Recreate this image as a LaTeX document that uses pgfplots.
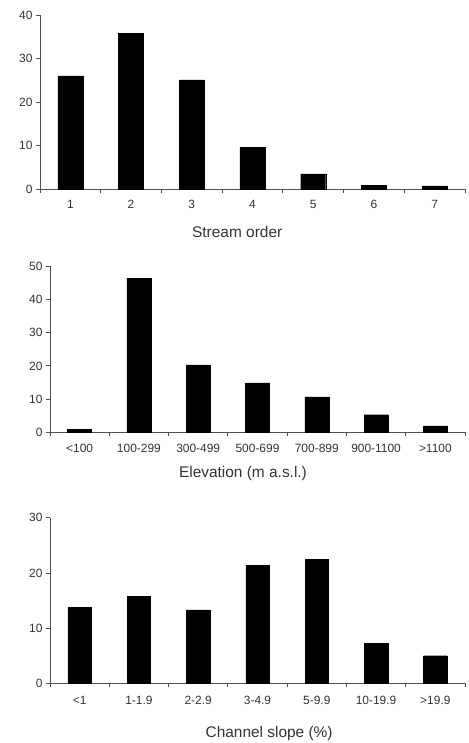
\documentclass[border=0pt]{standalone}
\usepackage{pgfplots}
\pgfplotsset{compat=1.18}
\usepackage{fontspec}
\setmainfont{Liberation Sans}
\definecolor{axgray}{HTML}{505050}
\definecolor{txtgray}{HTML}{333333}
\pgfplotsset{
  histo/.style={
    scale only axis,
    axis x line=bottom, axis y line=left,
    axis line style={axgray, line width=0.8bp, -},
    xmin=0.5, xmax=7.5, ymin=0,
    xtick={1,...,7},
    major x tick style={draw=none},
    minor xtick={0.5,1.5,...,7.5},
    minor tick length=4bp,
    major tick length=4bp,
    tick align=outside,
    tick style={axgray, line width=0.8bp},
    ticklabel style={font=\fontsize{12}{13}\selectfont, text=txtgray},
    /pgf/number format/assume math mode=true,
    label style={font=\fontsize{15.5}{17}\selectfont, text=txtgray},
    ybar, bar width=24bp,
    clip=false,
  }
}
\begin{document}
\begin{tikzpicture}
\path[use as bounding box] (0bp,0bp) rectangle (469bp,743bp);
% Panel 1
\begin{axis}[histo, at={(40bp,554bp)}, anchor=origin, width=425bp, height=174bp,
  ymax=40, ytick={0,10,20,30,40},
  xticklabels={1,2,3,4,5,6,7},
  xticklabel style={yshift=-4bp},
  xlabel={Stream order},
  xlabel style={at={(axis description cs:0.464,0)}, anchor=center, yshift=-43bp},
  bar width=25bp]
\addplot[fill=black, draw=black] coordinates {(1,26.0) (2,35.8) (3,25.1) (4,9.5) (5,3.5) (6,0.9) (7,0.7)};
\end{axis}
% Panel 2
\begin{axis}[histo, at={(50bp,310.7bp)}, anchor=origin, width=415bp, height=166bp,
  ymax=50, ytick={0,10,20,30,40,50},
  xticklabels={<100,100-299,300-499,500-699,700-899,900-1100,>1100},
  xticklabel style={yshift=-4bp},
  xlabel={Elevation (m a.s.l.)},
  xlabel style={at={(axis description cs:0.465,0)}, anchor=center, yshift=-41bp}]
\addplot[fill=black, draw=black] coordinates {(1,0.9) (2,46.4) (3,20.3) (4,14.9) (5,10.7) (6,5.3) (7,1.9)};
\end{axis}
% Panel 3
\begin{axis}[histo, at={(50bp,59.7bp)}, anchor=origin, width=415bp, height=165.6bp,
  ymax=30, ytick={0,10,20,30},
  xticklabels={<1,1-1.9,2-2.9,3-4.9,5-9.9,10-19.9,>19.9},
  xticklabel style={yshift=-5bp},
  xlabel={Channel slope (\%)},
  xlabel style={at={(axis description cs:0.528,0)}, anchor=center, yshift=-50bp},
  bar width=23.5bp]
\addplot[fill=black, draw=black] coordinates {(1,13.7) (2,15.8) (3,13.3) (4,21.4) (5,22.5) (6,7.2) (7,5.0)};
\end{axis}
\end{tikzpicture}
\end{document}
